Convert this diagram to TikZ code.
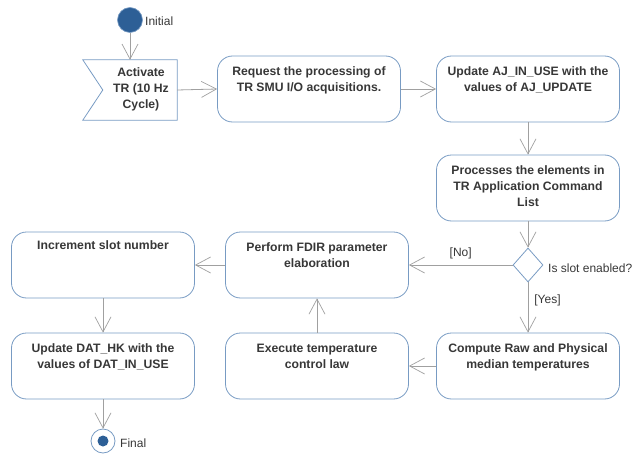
\documentclass[tikz,border=0pt]{standalone}
\usepackage{fontspec}
\setmainfont{Liberation Sans}
\usetikzlibrary{arrows.meta,shapes.geometric,calc}

\definecolor{boxblue}{RGB}{120,155,195}
\definecolor{wire}{RGB}{160,160,160}
\definecolor{ink}{RGB}{55,55,55}
\definecolor{dotblue}{RGB}{45,95,150}

\tikzset{
  x=1pt, y=-1pt,
  action/.style={draw=boxblue, line width=0.8pt, rounded corners=15pt,
    minimum width=183pt, minimum height=66pt, inner sep=0pt},
  caption/.style={anchor=north, inner sep=0pt, align=center, text=ink,
    font=\fontsize{12.2}{16}\selectfont\bfseries},
  tag/.style={inner sep=0pt, text=ink, font=\fontsize{12}{14}\selectfont},
  flow/.style={draw=wire, line width=0.8pt,
    -{Straight Barb[length=15pt,width=16pt,line width=0.7pt]}},
}

\begin{document}
\begin{tikzpicture}
\useasboundingbox (0,0) rectangle (633,455);

% start and end states
\node[circle, fill=dotblue, draw=boxblue, line width=0.6pt, minimum size=25pt, inner sep=0pt] (init) at (130,20) {};
\node[tag, anchor=west] (initlbl) at (145,21) {Initial};

\node[circle, draw=boxblue, line width=0.8pt, minimum size=24pt, inner sep=0pt] (final) at (103,441) {};
\node[circle, fill=dotblue, minimum size=11pt, inner sep=0pt] (finaldot) at (final) {};
\node[tag, anchor=west] (finallbl) at (120,443) {Final};

% accept-event action with a notched left side
\node[minimum width=94pt, minimum height=60pt, inner sep=0pt] (act) at (130,90) {};
\draw[draw=boxblue, line width=0.8pt]
  (act.north west) -- (act.north east) -- (act.south east) -- (act.south west)
  -- ($(act.west)+(20,0)$) -- cycle;
\node[caption] (acttxt) at (141,67) {Activate\\TR (10 Hz\\Cycle)};

% actions
\node[action] (req)  at (309,89)  {};
\node[action] (ajup) at (528,89)  {};
\node[action] (proc) at (528,188) {};
\node[action] (fdir) at (317,265) {};
\node[action] (inc)  at (103,265) {};
\node[action] (dat)  at (103,366) {};
\node[action] (comp) at (528,366) {};
\node[action] (exec) at (317,366) {};

\node[caption] (reqtxt)  at ($(req.north)+(0,11)$)  {Request the processing of\\TR SMU I/O acquisitions.};
\node[caption] (ajuptxt) at ($(ajup.north)+(0,11)$) {Update AJ\_IN\_USE with the\\values of AJ\_UPDATE};
\node[caption] (proctxt) at ($(proc.north)+(0,11)$) {Processes the elements in\\TR Application Command\\List};
\node[caption] (fdirtxt) at ($(fdir.north)+(0,11)$) {Perform FDIR parameter\\elaboration};
\node[caption] (inctxt)  at ($(inc.north)+(0,9)$)   {Increment slot number};
\node[caption] (dattxt)  at ($(dat.north)+(0,11)$)  {Update DAT\_HK with the\\values of DAT\_IN\_USE};
\node[caption] (comptxt) at ($(comp.north)+(0,11)$) {Compute Raw and Physical\\median temperatures};
\node[caption] (exectxt) at ($(exec.north)+(0,11)$) {Execute temperature\\control law};

% decision
\node[diamond, draw=boxblue, line width=0.8pt, minimum width=30pt, minimum height=34pt, inner sep=0pt] (dec) at (528,265) {};
\node[tag, anchor=west] (declbl) at (548,268) {Is slot enabled?};

% control flow
\draw[flow] (init) -- (act);
\draw[flow] (act.east) -- (req.west);
\draw[flow] (req.east) -- (ajup.west);
\draw[flow] (ajup.south) -- (proc.north);
\draw[flow] (proc.south) -- (dec.north);
\draw[flow] (dec.west) -- node[tag, above=6pt] (nolbl) {[No]} (fdir.east);
\draw[flow] (dec.south) -- node[tag, right=6pt, pos=0.35] (yeslbl) {[Yes]} (comp.north);
\draw[flow] (fdir.west) -- (inc.east);
\draw[flow] (inc.south) -- (dat.north);
\draw[flow] (comp.west) -- (exec.east);
\draw[flow] (exec.north) -- (fdir.south);
\draw[flow] (dat.south) -- (final.north);
\end{tikzpicture}
\end{document}
